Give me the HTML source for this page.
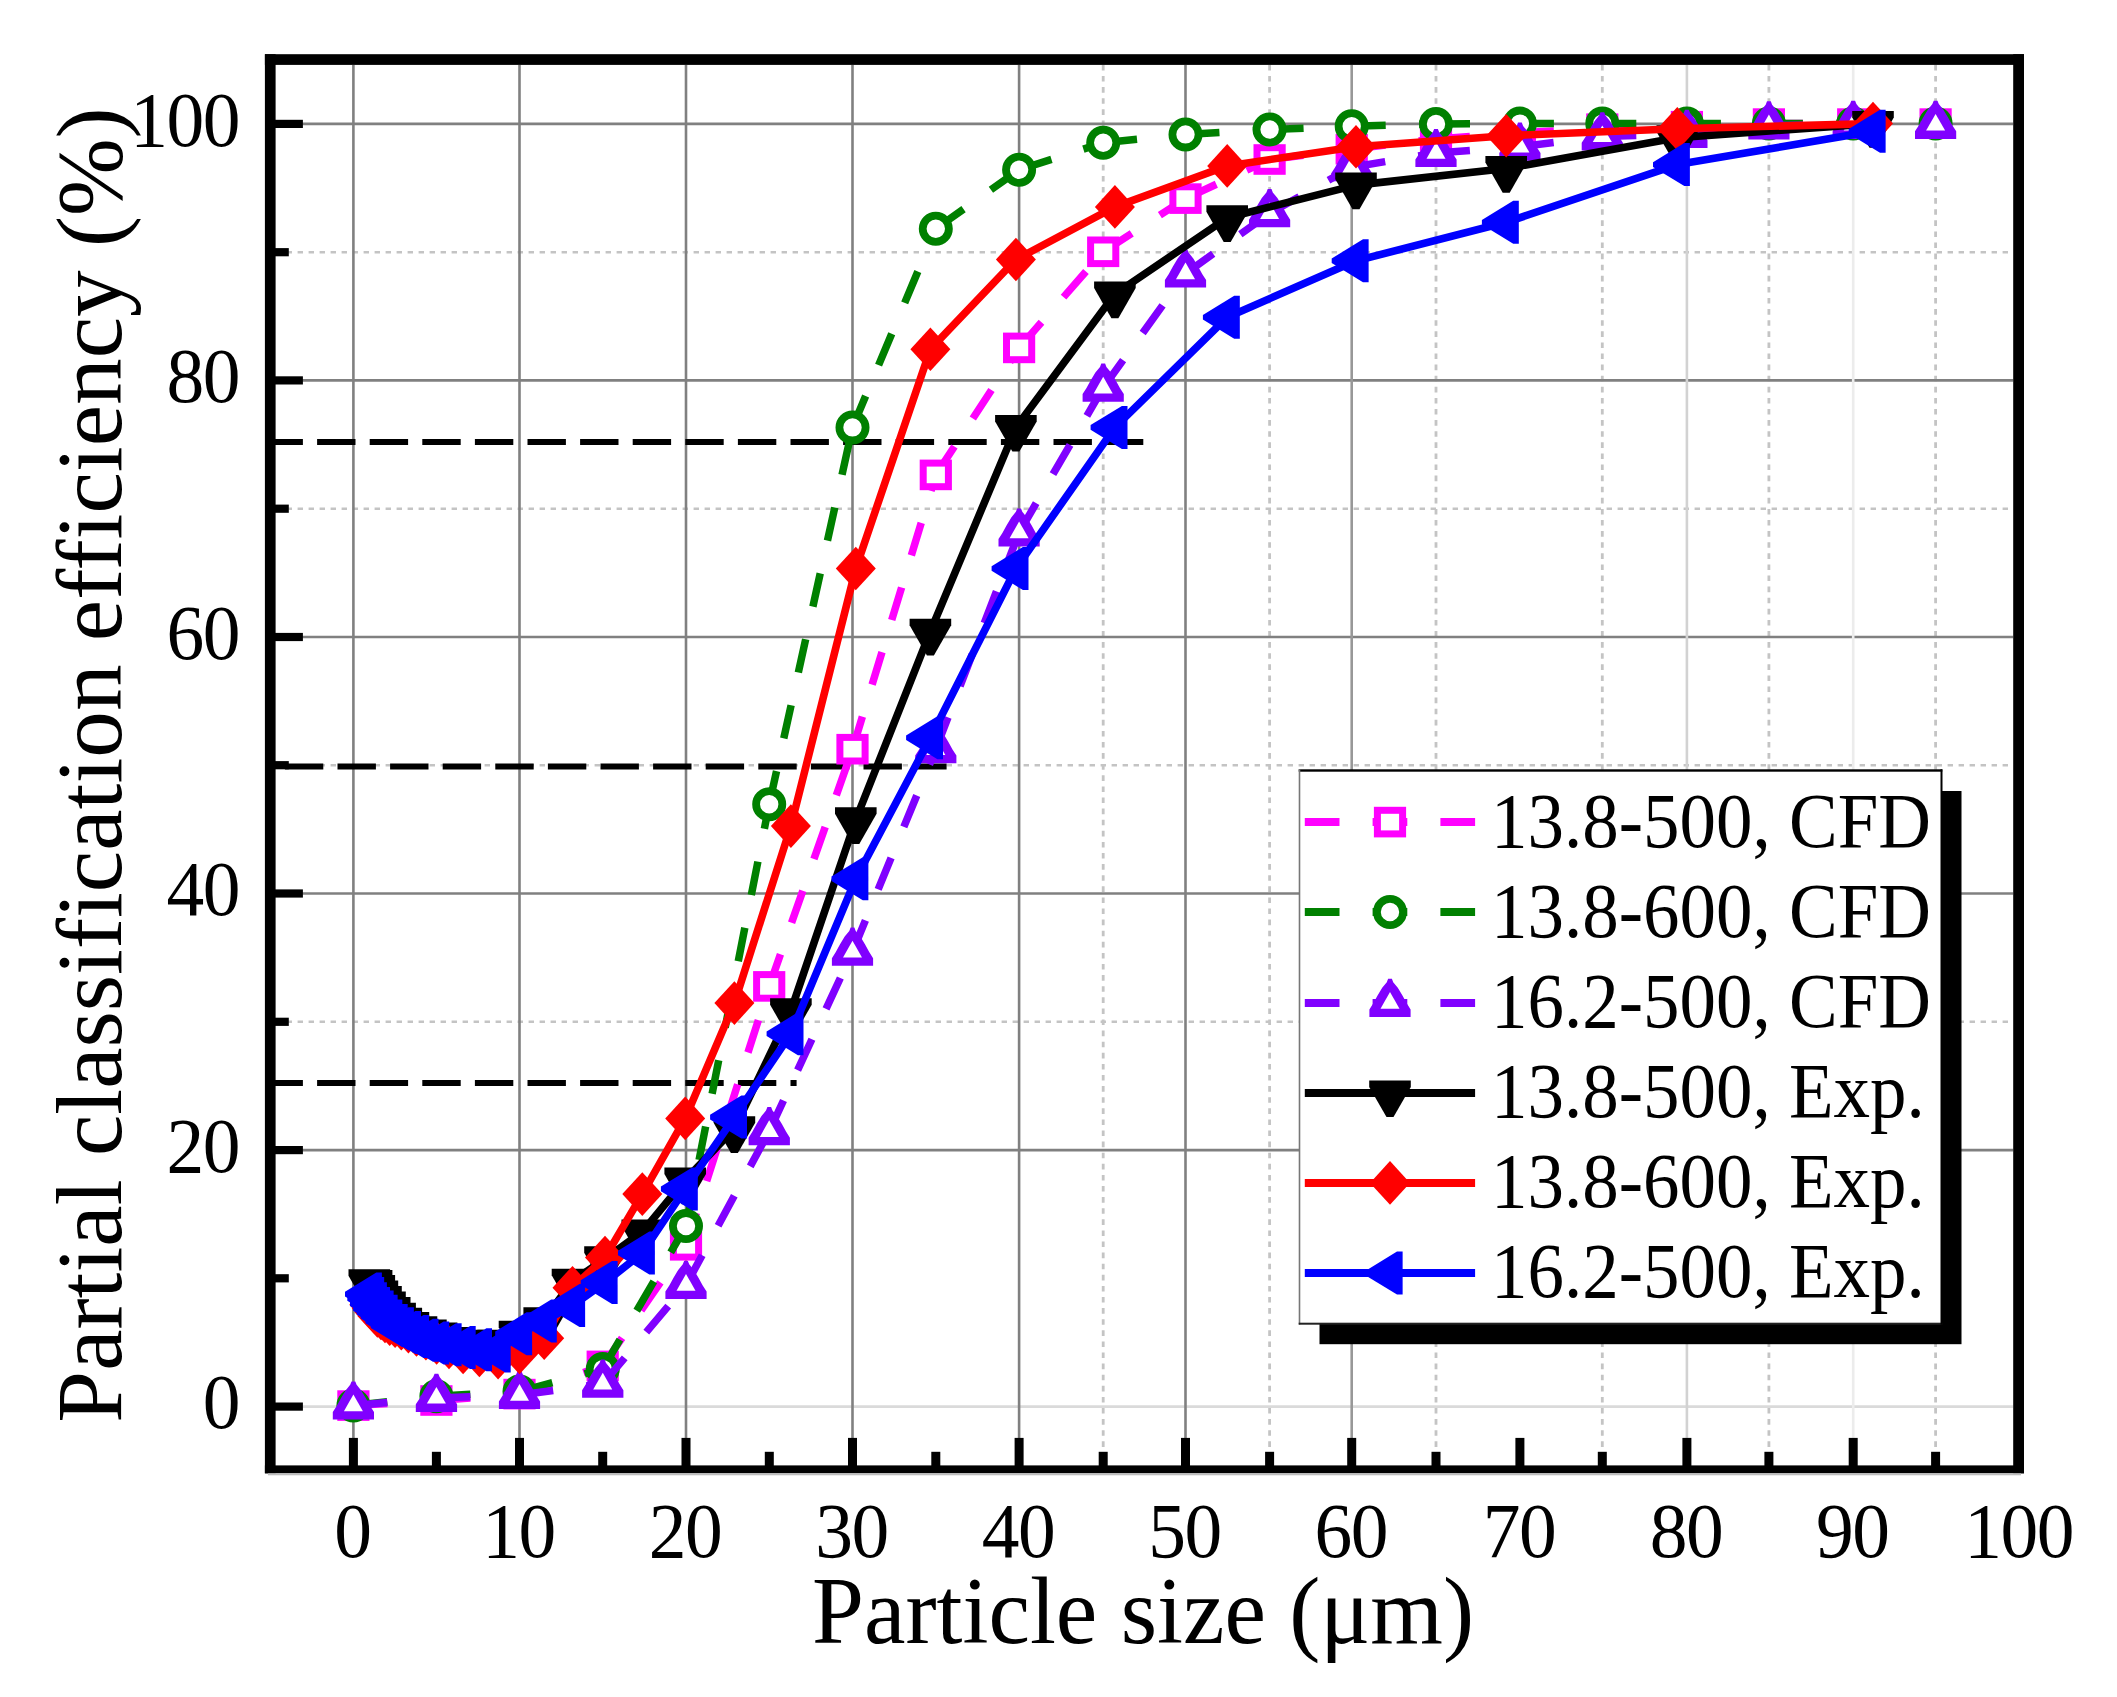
<!DOCTYPE html>
<html lang="en">
<head>
<meta charset="utf-8">
<title>Partial classification efficiency vs particle size</title>
<style>
html,body{margin:0;padding:0;background:#fff;}
body{width:2117px;height:1697px;overflow:hidden;font-family:"Liberation Serif","Times New Roman",serif;}
svg{display:block;}
</style>
</head>
<body>
<svg width="2117" height="1697" viewBox="0 0 2117 1697">
<rect x="0" y="0" width="2117" height="1697" fill="#fff"/>
<g id="grid" fill="none">
<line x1="275.6" x2="2013.2" y1="1021.8" y2="1021.8" stroke="#c4c4c4" stroke-width="2.6" stroke-dasharray="5.4 5.6"/>
<line x1="275.6" x2="2013.2" y1="765.2" y2="765.2" stroke="#c4c4c4" stroke-width="2.6" stroke-dasharray="5.4 5.6"/>
<line x1="275.6" x2="2013.2" y1="508.7" y2="508.7" stroke="#c4c4c4" stroke-width="2.6" stroke-dasharray="5.4 5.6"/>
<line x1="275.6" x2="2013.2" y1="252.2" y2="252.2" stroke="#c4c4c4" stroke-width="2.6" stroke-dasharray="5.4 5.6"/>
<line y1="64.9" y2="1465.4" x1="1103.2" x2="1103.2" stroke="#c4c4c4" stroke-width="2.8" stroke-dasharray="5.6 5.5"/>
<line y1="64.9" y2="1465.4" x1="1269.6" x2="1269.6" stroke="#c4c4c4" stroke-width="2.8" stroke-dasharray="5.6 5.5"/>
<line y1="64.9" y2="1465.4" x1="1436.0" x2="1436.0" stroke="#c4c4c4" stroke-width="2.8" stroke-dasharray="5.6 5.5"/>
<line y1="64.9" y2="1465.4" x1="1602.3" x2="1602.3" stroke="#c4c4c4" stroke-width="2.8" stroke-dasharray="5.6 5.5"/>
<line y1="64.9" y2="1465.4" x1="1768.9" x2="1768.9" stroke="#c4c4c4" stroke-width="2.8" stroke-dasharray="5.6 5.5"/>
<line y1="64.9" y2="1465.4" x1="1935.6" x2="1935.6" stroke="#c4c4c4" stroke-width="2.8" stroke-dasharray="5.6 5.5"/>
<line x1="275.6" x2="2013.2" y1="1406.6" y2="1406.6" stroke="#dadada" stroke-width="2.6"/>
<line x1="275.6" x2="2013.2" y1="1150.1" y2="1150.1" stroke="#808080" stroke-width="2.6"/>
<line x1="275.6" x2="2013.2" y1="893.5" y2="893.5" stroke="#808080" stroke-width="2.6"/>
<line x1="275.6" x2="2013.2" y1="637.0" y2="637.0" stroke="#808080" stroke-width="2.6"/>
<line x1="275.6" x2="2013.2" y1="380.4" y2="380.4" stroke="#808080" stroke-width="2.6"/>
<line x1="275.6" x2="2013.2" y1="123.9" y2="123.9" stroke="#808080" stroke-width="2.6"/>
<line y1="64.9" y2="1465.4" x1="353.4" x2="353.4" stroke="#808080" stroke-width="2.6"/>
<line y1="64.9" y2="1465.4" x1="519.5" x2="519.5" stroke="#808080" stroke-width="2.6"/>
<line y1="64.9" y2="1465.4" x1="686.0" x2="686.0" stroke="#808080" stroke-width="2.6"/>
<line y1="64.9" y2="1465.4" x1="852.5" x2="852.5" stroke="#808080" stroke-width="2.6"/>
<line y1="64.9" y2="1465.4" x1="1019.1" x2="1019.1" stroke="#808080" stroke-width="2.6"/>
<line y1="64.9" y2="1465.4" x1="1185.5" x2="1185.5" stroke="#808080" stroke-width="2.6"/>
<line y1="64.9" y2="1465.4" x1="1351.7" x2="1351.7" stroke="#989898" stroke-width="2.6"/>
<line y1="64.9" y2="1465.4" x1="1686.9" x2="1686.9" stroke="#d2d2d2" stroke-width="2.6"/>
<line y1="64.9" y2="1465.4" x1="1853.2" x2="1853.2" stroke="#ececec" stroke-width="2.6"/>
</g>
<g id="ref" stroke="#000" stroke-width="6" fill="none" stroke-dasharray="38.4 14.2">
<line x1="266.0" x2="1143.3" y1="441.9" y2="441.9" stroke-dashoffset="1.5"/>
<line x1="266.0" x2="946.6" y1="766.5" y2="766.5" stroke-dashoffset="33.7"/>
<line x1="266.0" x2="796.6" y1="1083.1" y2="1083.1" stroke-dashoffset="1.5"/>
</g>
<g id="s_mag">
<g stroke="#ff00ff" stroke-width="7.5" stroke-dasharray="34 33.5" fill="none">
<line x1="353.4" y1="1405.6" x2="436.4" y2="1400.5"/>
<line x1="436.4" y1="1400.5" x2="519.5" y2="1394.1"/>
<line x1="519.5" y1="1394.1" x2="602.8" y2="1365.9"/>
<line x1="602.8" y1="1365.9" x2="686.0" y2="1245.3"/>
<line x1="686.0" y1="1245.3" x2="769.2" y2="986.4"/>
<line x1="769.2" y1="986.4" x2="852.5" y2="749.2"/>
<line x1="852.5" y1="749.2" x2="935.8" y2="474.9"/>
<line x1="935.8" y1="474.9" x2="1019.1" y2="347.9"/>
<line x1="1019.1" y1="347.9" x2="1103.2" y2="251.8"/>
<line x1="1103.2" y1="251.8" x2="1185.5" y2="198.6"/>
<line x1="1185.5" y1="198.6" x2="1269.6" y2="159.5"/>
<line x1="1269.6" y1="159.5" x2="1351.7" y2="149.2"/>
<line x1="1351.7" y1="149.2" x2="1436.0" y2="139.0"/>
<line x1="1436.0" y1="139.0" x2="1519.9" y2="132.6"/>
<line x1="1519.9" y1="132.6" x2="1602.3" y2="128.7"/>
<line x1="1602.3" y1="128.7" x2="1686.9" y2="126.2"/>
<line x1="1686.9" y1="126.2" x2="1768.9" y2="123.6"/>
<line x1="1768.9" y1="123.6" x2="1853.2" y2="123.6"/>
<line x1="1853.2" y1="123.6" x2="1935.6" y2="123.6"/>
</g>
<rect x="340.8" y="1393.8" width="25.2" height="23.6" fill="#fff" stroke="#ff00ff" stroke-width="7"/>
<rect x="423.8" y="1388.7" width="25.2" height="23.6" fill="#fff" stroke="#ff00ff" stroke-width="7"/>
<rect x="506.9" y="1382.3" width="25.2" height="23.6" fill="#fff" stroke="#ff00ff" stroke-width="7"/>
<rect x="590.1" y="1354.1" width="25.2" height="23.6" fill="#fff" stroke="#ff00ff" stroke-width="7"/>
<rect x="673.4" y="1233.5" width="25.2" height="23.6" fill="#fff" stroke="#ff00ff" stroke-width="7"/>
<rect x="756.6" y="974.6" width="25.2" height="23.6" fill="#fff" stroke="#ff00ff" stroke-width="7"/>
<rect x="839.9" y="737.4" width="25.2" height="23.6" fill="#fff" stroke="#ff00ff" stroke-width="7"/>
<rect x="923.2" y="463.1" width="25.2" height="23.6" fill="#fff" stroke="#ff00ff" stroke-width="7"/>
<rect x="1006.5" y="336.1" width="25.2" height="23.6" fill="#fff" stroke="#ff00ff" stroke-width="7"/>
<rect x="1090.6" y="240.0" width="25.2" height="23.6" fill="#fff" stroke="#ff00ff" stroke-width="7"/>
<rect x="1172.9" y="186.8" width="25.2" height="23.6" fill="#fff" stroke="#ff00ff" stroke-width="7"/>
<rect x="1257.0" y="147.7" width="25.2" height="23.6" fill="#fff" stroke="#ff00ff" stroke-width="7"/>
<rect x="1339.1" y="137.4" width="25.2" height="23.6" fill="#fff" stroke="#ff00ff" stroke-width="7"/>
<rect x="1423.4" y="127.2" width="25.2" height="23.6" fill="#fff" stroke="#ff00ff" stroke-width="7"/>
<rect x="1507.3" y="120.8" width="25.2" height="23.6" fill="#fff" stroke="#ff00ff" stroke-width="7"/>
<rect x="1589.7" y="116.9" width="25.2" height="23.6" fill="#fff" stroke="#ff00ff" stroke-width="7"/>
<rect x="1674.3" y="114.4" width="25.2" height="23.6" fill="#fff" stroke="#ff00ff" stroke-width="7"/>
<rect x="1756.3" y="111.8" width="25.2" height="23.6" fill="#fff" stroke="#ff00ff" stroke-width="7"/>
<rect x="1840.6" y="111.8" width="25.2" height="23.6" fill="#fff" stroke="#ff00ff" stroke-width="7"/>
<rect x="1923.0" y="111.8" width="25.2" height="23.6" fill="#fff" stroke="#ff00ff" stroke-width="7"/>
</g>
<g id="s_grn">
<g stroke="#008000" stroke-width="7.5" stroke-dasharray="34 33.5" fill="none">
<line x1="353.4" y1="1405.6" x2="436.4" y2="1396.2"/>
<line x1="436.4" y1="1396.2" x2="519.5" y2="1391.5"/>
<line x1="519.5" y1="1391.5" x2="602.8" y2="1369.1"/>
<line x1="602.8" y1="1369.1" x2="686.0" y2="1226.1"/>
<line x1="686.0" y1="1226.1" x2="769.2" y2="804.3"/>
<line x1="769.2" y1="804.3" x2="852.5" y2="427.4"/>
<line x1="852.5" y1="427.4" x2="935.8" y2="228.7"/>
<line x1="935.8" y1="228.7" x2="1019.1" y2="169.8"/>
<line x1="1019.1" y1="169.8" x2="1103.2" y2="142.8"/>
<line x1="1103.2" y1="142.8" x2="1185.5" y2="134.4"/>
<line x1="1185.5" y1="134.4" x2="1269.6" y2="129.5"/>
<line x1="1269.6" y1="129.5" x2="1351.7" y2="126.2"/>
<line x1="1351.7" y1="126.2" x2="1436.0" y2="123.9"/>
<line x1="1436.0" y1="123.9" x2="1519.9" y2="123.6"/>
<line x1="1519.9" y1="123.6" x2="1602.3" y2="123.6"/>
<line x1="1602.3" y1="123.6" x2="1686.9" y2="123.6"/>
<line x1="1686.9" y1="123.6" x2="1768.9" y2="123.6"/>
<line x1="1768.9" y1="123.6" x2="1853.2" y2="123.6"/>
<line x1="1853.2" y1="123.6" x2="1935.6" y2="123.6"/>
</g>
<circle cx="353.4" cy="1405.6" r="13.1" fill="#fff" stroke="#008000" stroke-width="7.8"/>
<circle cx="436.4" cy="1396.2" r="13.1" fill="#fff" stroke="#008000" stroke-width="7.8"/>
<circle cx="519.5" cy="1391.5" r="13.1" fill="#fff" stroke="#008000" stroke-width="7.8"/>
<circle cx="602.8" cy="1369.1" r="13.1" fill="#fff" stroke="#008000" stroke-width="7.8"/>
<circle cx="686.0" cy="1226.1" r="13.1" fill="#fff" stroke="#008000" stroke-width="7.8"/>
<circle cx="769.2" cy="804.3" r="13.1" fill="#fff" stroke="#008000" stroke-width="7.8"/>
<circle cx="852.5" cy="427.4" r="13.1" fill="#fff" stroke="#008000" stroke-width="7.8"/>
<circle cx="935.8" cy="228.7" r="13.1" fill="#fff" stroke="#008000" stroke-width="7.8"/>
<circle cx="1019.1" cy="169.8" r="13.1" fill="#fff" stroke="#008000" stroke-width="7.8"/>
<circle cx="1103.2" cy="142.8" r="13.1" fill="#fff" stroke="#008000" stroke-width="7.8"/>
<circle cx="1185.5" cy="134.4" r="13.1" fill="#fff" stroke="#008000" stroke-width="7.8"/>
<circle cx="1269.6" cy="129.5" r="13.1" fill="#fff" stroke="#008000" stroke-width="7.8"/>
<circle cx="1351.7" cy="126.2" r="13.1" fill="#fff" stroke="#008000" stroke-width="7.8"/>
<circle cx="1436.0" cy="123.9" r="13.1" fill="#fff" stroke="#008000" stroke-width="7.8"/>
<circle cx="1519.9" cy="123.6" r="13.1" fill="#fff" stroke="#008000" stroke-width="7.8"/>
<circle cx="1602.3" cy="123.6" r="13.1" fill="#fff" stroke="#008000" stroke-width="7.8"/>
<circle cx="1686.9" cy="123.6" r="13.1" fill="#fff" stroke="#008000" stroke-width="7.8"/>
<circle cx="1768.9" cy="123.6" r="13.1" fill="#fff" stroke="#008000" stroke-width="7.8"/>
<circle cx="1853.2" cy="123.6" r="13.1" fill="#fff" stroke="#008000" stroke-width="7.8"/>
<circle cx="1935.6" cy="123.6" r="13.1" fill="#fff" stroke="#008000" stroke-width="7.8"/>
</g>
<g id="s_pur">
<g stroke="#8000ff" stroke-width="7.5" stroke-dasharray="34 33.5" fill="none">
<line x1="353.4" y1="1405.6" x2="436.4" y2="1397.9"/>
<line x1="436.4" y1="1397.9" x2="519.5" y2="1395.0"/>
<line x1="519.5" y1="1395.0" x2="602.8" y2="1383.8"/>
<line x1="602.8" y1="1383.8" x2="686.0" y2="1285.1"/>
<line x1="686.0" y1="1285.1" x2="769.2" y2="1131.3"/>
<line x1="769.2" y1="1131.3" x2="852.5" y2="951.8"/>
<line x1="852.5" y1="951.8" x2="935.8" y2="749.2"/>
<line x1="935.8" y1="749.2" x2="1019.1" y2="532.6"/>
<line x1="1019.1" y1="532.6" x2="1103.2" y2="387.7"/>
<line x1="1103.2" y1="387.7" x2="1185.5" y2="273.6"/>
<line x1="1185.5" y1="273.6" x2="1269.6" y2="213.3"/>
<line x1="1269.6" y1="213.3" x2="1351.7" y2="167.2"/>
<line x1="1351.7" y1="167.2" x2="1436.0" y2="153.1"/>
<line x1="1436.0" y1="153.1" x2="1519.9" y2="146.7"/>
<line x1="1519.9" y1="146.7" x2="1602.3" y2="136.4"/>
<line x1="1602.3" y1="136.4" x2="1686.9" y2="133.9"/>
<line x1="1686.9" y1="133.9" x2="1768.9" y2="125.5"/>
<line x1="1768.9" y1="125.5" x2="1853.2" y2="124.9"/>
<line x1="1853.2" y1="124.9" x2="1935.6" y2="124.9"/>
</g>
<polygon points="355.3,1381.4 356.6,1384.8 361.2,1390.4 366.0,1398.4 370.1,1405.9 374.0,1412.0 374.0,1419.6 332.8,1419.6 332.8,1412.0 336.7,1405.9 340.8,1398.4 345.6,1390.4 350.2,1384.8 351.5,1381.4" fill="#8000ff"/><polygon points="353.4,1394.6 362.9,1411.3 343.9,1411.3" fill="#fff"/>
<polygon points="438.3,1373.7 439.6,1377.1 444.2,1382.7 449.1,1390.7 453.1,1398.2 457.1,1404.3 457.1,1411.9 415.8,1411.9 415.8,1404.3 419.8,1398.2 423.8,1390.7 428.6,1382.7 433.2,1377.1 434.6,1373.7" fill="#8000ff"/><polygon points="436.4,1386.9 445.9,1403.6 426.9,1403.6" fill="#fff"/>
<polygon points="521.4,1370.8 522.7,1374.2 527.3,1379.8 532.1,1387.8 536.2,1395.3 540.1,1401.4 540.1,1409.0 498.9,1409.0 498.9,1401.4 502.8,1395.3 506.9,1387.8 511.7,1379.8 516.3,1374.2 517.6,1370.8" fill="#8000ff"/><polygon points="519.5,1384.0 529.0,1400.7 510.0,1400.7" fill="#fff"/>
<polygon points="604.6,1359.6 606.0,1363.0 610.5,1368.6 615.4,1376.6 619.5,1384.1 623.4,1390.2 623.4,1397.8 582.1,1397.8 582.1,1390.2 586.0,1384.1 590.1,1376.6 595.0,1368.6 599.5,1363.0 600.9,1359.6" fill="#8000ff"/><polygon points="602.8,1372.8 612.2,1389.5 593.2,1389.5" fill="#fff"/>
<polygon points="687.9,1260.9 689.2,1264.3 693.8,1269.9 698.6,1277.9 702.7,1285.4 706.6,1291.5 706.6,1299.1 665.4,1299.1 665.4,1291.5 669.3,1285.4 673.4,1277.9 678.2,1269.9 682.8,1264.3 684.1,1260.9" fill="#8000ff"/><polygon points="686.0,1274.1 695.5,1290.8 676.5,1290.8" fill="#fff"/>
<polygon points="771.1,1107.1 772.5,1110.5 777.0,1116.1 781.9,1124.1 786.0,1131.6 789.9,1137.7 789.9,1145.3 748.6,1145.3 748.6,1137.7 752.5,1131.6 756.6,1124.1 761.5,1116.1 766.0,1110.5 767.4,1107.1" fill="#8000ff"/><polygon points="769.2,1120.3 778.8,1137.0 759.8,1137.0" fill="#fff"/>
<polygon points="854.4,927.6 855.7,931.0 860.3,936.6 865.1,944.6 869.2,952.1 873.1,958.2 873.1,965.8 831.9,965.8 831.9,958.2 835.8,952.1 839.9,944.6 844.7,936.6 849.3,931.0 850.6,927.6" fill="#8000ff"/><polygon points="852.5,940.8 862.0,957.5 843.0,957.5" fill="#fff"/>
<polygon points="937.7,725.0 939.0,728.4 943.6,734.0 948.4,742.0 952.5,749.5 956.4,755.6 956.4,763.2 915.2,763.2 915.2,755.6 919.1,749.5 923.2,742.0 928.0,734.0 932.6,728.4 933.9,725.0" fill="#8000ff"/><polygon points="935.8,738.2 945.3,754.9 926.3,754.9" fill="#fff"/>
<polygon points="1021.0,508.4 1022.3,511.8 1026.9,517.4 1031.7,525.4 1035.8,532.9 1039.7,539.0 1039.7,546.6 998.5,546.6 998.5,539.0 1002.4,532.9 1006.5,525.4 1011.3,517.4 1015.9,511.8 1017.2,508.4" fill="#8000ff"/><polygon points="1019.1,521.6 1028.6,538.3 1009.6,538.3" fill="#fff"/>
<polygon points="1105.1,363.5 1106.4,366.9 1111.0,372.5 1115.8,380.5 1119.9,388.0 1123.8,394.1 1123.8,401.7 1082.6,401.7 1082.6,394.1 1086.5,388.0 1090.6,380.5 1095.4,372.5 1100.0,366.9 1101.3,363.5" fill="#8000ff"/><polygon points="1103.2,376.7 1112.7,393.4 1093.7,393.4" fill="#fff"/>
<polygon points="1187.4,249.4 1188.7,252.8 1193.3,258.4 1198.1,266.4 1202.2,273.9 1206.1,280.0 1206.1,287.6 1164.9,287.6 1164.9,280.0 1168.8,273.9 1172.9,266.4 1177.7,258.4 1182.3,252.8 1183.6,249.4" fill="#8000ff"/><polygon points="1185.5,262.6 1195.0,279.3 1176.0,279.3" fill="#fff"/>
<polygon points="1271.5,189.1 1272.8,192.5 1277.4,198.1 1282.2,206.1 1286.3,213.6 1290.2,219.7 1290.2,227.3 1249.0,227.3 1249.0,219.7 1252.9,213.6 1257.0,206.1 1261.8,198.1 1266.4,192.5 1267.7,189.1" fill="#8000ff"/><polygon points="1269.6,202.3 1279.1,219.0 1260.1,219.0" fill="#fff"/>
<polygon points="1353.6,143.0 1354.9,146.4 1359.5,152.0 1364.3,160.0 1368.4,167.5 1372.3,173.6 1372.3,181.2 1331.1,181.2 1331.1,173.6 1335.0,167.5 1339.1,160.0 1343.9,152.0 1348.5,146.4 1349.8,143.0" fill="#8000ff"/><polygon points="1351.7,156.2 1361.2,172.9 1342.2,172.9" fill="#fff"/>
<polygon points="1437.9,128.9 1439.2,132.3 1443.8,137.9 1448.6,145.9 1452.7,153.4 1456.6,159.5 1456.6,167.1 1415.4,167.1 1415.4,159.5 1419.3,153.4 1423.4,145.9 1428.2,137.9 1432.8,132.3 1434.1,128.9" fill="#8000ff"/><polygon points="1436.0,142.1 1445.5,158.8 1426.5,158.8" fill="#fff"/>
<polygon points="1521.8,122.5 1523.1,125.9 1527.7,131.5 1532.5,139.5 1536.6,147.0 1540.5,153.1 1540.5,160.7 1499.3,160.7 1499.3,153.1 1503.2,147.0 1507.3,139.5 1512.1,131.5 1516.7,125.9 1518.0,122.5" fill="#8000ff"/><polygon points="1519.9,135.7 1529.4,152.4 1510.4,152.4" fill="#fff"/>
<polygon points="1604.2,112.2 1605.5,115.6 1610.1,121.2 1614.9,129.2 1619.0,136.7 1622.9,142.8 1622.9,150.4 1581.7,150.4 1581.7,142.8 1585.6,136.7 1589.7,129.2 1594.5,121.2 1599.1,115.6 1600.4,112.2" fill="#8000ff"/><polygon points="1602.3,125.4 1611.8,142.1 1592.8,142.1" fill="#fff"/>
<polygon points="1688.8,109.7 1690.1,113.1 1694.7,118.7 1699.5,126.7 1703.6,134.2 1707.5,140.3 1707.5,147.9 1666.3,147.9 1666.3,140.3 1670.2,134.2 1674.3,126.7 1679.1,118.7 1683.7,113.1 1685.0,109.7" fill="#8000ff"/><polygon points="1686.9,122.9 1696.4,139.6 1677.4,139.6" fill="#fff"/>
<polygon points="1770.8,101.3 1772.1,104.7 1776.7,110.3 1781.5,118.3 1785.6,125.8 1789.5,131.9 1789.5,139.5 1748.3,139.5 1748.3,131.9 1752.2,125.8 1756.3,118.3 1761.1,110.3 1765.7,104.7 1767.0,101.3" fill="#8000ff"/><polygon points="1768.9,114.5 1778.4,131.2 1759.4,131.2" fill="#fff"/>
<polygon points="1855.1,100.7 1856.4,104.1 1861.0,109.7 1865.8,117.7 1869.9,125.2 1873.8,131.3 1873.8,138.9 1832.6,138.9 1832.6,131.3 1836.5,125.2 1840.6,117.7 1845.4,109.7 1850.0,104.1 1851.3,100.7" fill="#8000ff"/><polygon points="1853.2,113.9 1862.7,130.6 1843.7,130.6" fill="#fff"/>
<polygon points="1937.5,100.7 1938.8,104.1 1943.4,109.7 1948.2,117.7 1952.3,125.2 1956.2,131.3 1956.2,138.9 1915.0,138.9 1915.0,131.3 1918.9,125.2 1923.0,117.7 1927.8,109.7 1932.4,104.1 1933.7,100.7" fill="#8000ff"/><polygon points="1935.6,113.9 1945.1,130.6 1926.1,130.6" fill="#fff"/>
</g>
<g id="s_blk">
<polyline points="369.3,1281.8 371.6,1282.5 374.3,1287.4 377.4,1293.1 381.0,1298.5 385.0,1304.0 389.7,1309.6 395.1,1315.2 401.3,1320.2 408.4,1324.6 416.5,1328.8 425.9,1332.0 436.6,1335.0 449.0,1339.5 463.1,1342.2 479.4,1343.4 498.1,1342.2 519.5,1333.2 544.2,1319.7 572.5,1281.2 605.0,1258.8 642.3,1231.9 685.2,1180.0 734.4,1128.7 790.9,1010.7 855.8,819.7 930.4,631.3 1015.9,427.4 1114.9,294.1 1227.2,217.8 1356.0,185.1 1506.2,168.5 1677.3,137.7 1873.0,123.6" fill="none" stroke="#000000" stroke-width="7.6" stroke-linejoin="round"/>
<polygon points="348.5,1269.3 390.1,1269.3 390.1,1275.8 372.8,1306.0 365.8,1306.0 348.5,1275.8" fill="#000000"/>
<polygon points="350.8,1270.0 392.4,1270.0 392.4,1276.5 375.1,1306.7 368.1,1306.7 350.8,1276.5" fill="#000000"/>
<polygon points="353.5,1274.9 395.1,1274.9 395.1,1281.4 377.8,1311.6 370.8,1311.6 353.5,1281.4" fill="#000000"/>
<polygon points="356.6,1280.6 398.2,1280.6 398.2,1287.1 380.9,1317.3 373.9,1317.3 356.6,1287.1" fill="#000000"/>
<polygon points="360.2,1286.0 401.8,1286.0 401.8,1292.5 384.5,1322.7 377.5,1322.7 360.2,1292.5" fill="#000000"/>
<polygon points="364.2,1291.5 405.8,1291.5 405.8,1298.0 388.5,1328.2 381.5,1328.2 364.2,1298.0" fill="#000000"/>
<polygon points="368.9,1297.1 410.5,1297.1 410.5,1303.6 393.2,1333.8 386.2,1333.8 368.9,1303.6" fill="#000000"/>
<polygon points="374.3,1302.7 415.9,1302.7 415.9,1309.2 398.6,1339.4 391.6,1339.4 374.3,1309.2" fill="#000000"/>
<polygon points="380.5,1307.7 422.1,1307.7 422.1,1314.2 404.8,1344.4 397.8,1344.4 380.5,1314.2" fill="#000000"/>
<polygon points="387.6,1312.1 429.2,1312.1 429.2,1318.6 411.9,1348.8 404.9,1348.8 387.6,1318.6" fill="#000000"/>
<polygon points="395.7,1316.3 437.3,1316.3 437.3,1322.8 420.0,1353.0 413.0,1353.0 395.7,1322.8" fill="#000000"/>
<polygon points="405.1,1319.5 446.7,1319.5 446.7,1326.0 429.4,1356.2 422.4,1356.2 405.1,1326.0" fill="#000000"/>
<polygon points="415.8,1322.5 457.4,1322.5 457.4,1329.0 440.1,1359.2 433.1,1359.2 415.8,1329.0" fill="#000000"/>
<polygon points="428.2,1327.0 469.8,1327.0 469.8,1333.5 452.5,1363.7 445.5,1363.7 428.2,1333.5" fill="#000000"/>
<polygon points="442.3,1329.7 483.9,1329.7 483.9,1336.2 466.6,1366.4 459.6,1366.4 442.3,1336.2" fill="#000000"/>
<polygon points="458.6,1330.9 500.2,1330.9 500.2,1337.4 482.9,1367.6 475.9,1367.6 458.6,1337.4" fill="#000000"/>
<polygon points="477.3,1329.7 518.9,1329.7 518.9,1336.2 501.6,1366.4 494.6,1366.4 477.3,1336.2" fill="#000000"/>
<polygon points="498.7,1320.7 540.3,1320.7 540.3,1327.2 523.0,1357.4 516.0,1357.4 498.7,1327.2" fill="#000000"/>
<polygon points="523.4,1307.2 565.0,1307.2 565.0,1313.7 547.7,1343.9 540.7,1343.9 523.4,1313.7" fill="#000000"/>
<polygon points="551.7,1268.7 593.3,1268.7 593.3,1275.2 576.0,1305.4 569.0,1305.4 551.7,1275.2" fill="#000000"/>
<polygon points="584.2,1246.3 625.8,1246.3 625.8,1252.8 608.5,1283.0 601.5,1283.0 584.2,1252.8" fill="#000000"/>
<polygon points="621.5,1219.4 663.1,1219.4 663.1,1225.9 645.8,1256.1 638.8,1256.1 621.5,1225.9" fill="#000000"/>
<polygon points="664.4,1167.5 706.0,1167.5 706.0,1174.0 688.7,1204.2 681.7,1204.2 664.4,1174.0" fill="#000000"/>
<polygon points="713.6,1116.2 755.2,1116.2 755.2,1122.7 737.9,1152.9 730.9,1152.9 713.6,1122.7" fill="#000000"/>
<polygon points="770.1,998.2 811.7,998.2 811.7,1004.7 794.4,1034.9 787.4,1034.9 770.1,1004.7" fill="#000000"/>
<polygon points="835.0,807.2 876.6,807.2 876.6,813.7 859.3,843.9 852.3,843.9 835.0,813.7" fill="#000000"/>
<polygon points="909.6,618.8 951.2,618.8 951.2,625.3 933.9,655.5 926.9,655.5 909.6,625.3" fill="#000000"/>
<polygon points="995.1,414.9 1036.7,414.9 1036.7,421.4 1019.4,451.6 1012.4,451.6 995.1,421.4" fill="#000000"/>
<polygon points="1094.1,281.6 1135.7,281.6 1135.7,288.1 1118.4,318.3 1111.4,318.3 1094.1,288.1" fill="#000000"/>
<polygon points="1206.4,205.3 1248.0,205.3 1248.0,211.8 1230.7,242.0 1223.7,242.0 1206.4,211.8" fill="#000000"/>
<polygon points="1335.2,172.6 1376.8,172.6 1376.8,179.1 1359.5,209.3 1352.5,209.3 1335.2,179.1" fill="#000000"/>
<polygon points="1485.4,156.0 1527.0,156.0 1527.0,162.5 1509.7,192.7 1502.7,192.7 1485.4,162.5" fill="#000000"/>
<polygon points="1656.5,125.2 1698.1,125.2 1698.1,131.7 1680.8,161.9 1673.8,161.9 1656.5,131.7" fill="#000000"/>
<polygon points="1852.2,111.1 1893.8,111.1 1893.8,117.6 1876.5,147.8 1869.5,147.8 1852.2,117.6" fill="#000000"/>
</g>
<g id="s_red">
<polyline points="369.3,1304.8 371.6,1308.1 374.3,1311.9 377.4,1316.0 381.0,1318.5 385.0,1321.4 389.7,1324.3 395.1,1326.3 401.3,1328.7 408.4,1331.6 416.5,1334.9 425.9,1338.8 436.6,1343.0 449.0,1347.4 463.1,1352.4 479.4,1355.5 498.1,1357.6 519.5,1352.4 544.2,1338.3 572.5,1287.7 605.0,1257.5 642.3,1194.1 685.2,1118.4 734.4,1003.1 790.9,826.1 855.8,568.5 930.4,349.2 1015.9,259.5 1114.9,206.9 1227.2,165.9 1356.0,146.7 1506.2,135.7 1677.3,128.7 1873.0,123.6" fill="none" stroke="#ff0000" stroke-width="7.6" stroke-linejoin="round"/>
<polygon points="349.3,1304.8 369.3,1283.0 389.3,1304.8 369.3,1326.6" fill="#ff0000"/>
<polygon points="351.6,1308.1 371.6,1286.3 391.6,1308.1 371.6,1329.9" fill="#ff0000"/>
<polygon points="354.3,1311.9 374.3,1290.1 394.3,1311.9 374.3,1333.7" fill="#ff0000"/>
<polygon points="357.4,1316.0 377.4,1294.2 397.4,1316.0 377.4,1337.8" fill="#ff0000"/>
<polygon points="361.0,1318.5 381.0,1296.7 401.0,1318.5 381.0,1340.3" fill="#ff0000"/>
<polygon points="365.0,1321.4 385.0,1299.6 405.0,1321.4 385.0,1343.2" fill="#ff0000"/>
<polygon points="369.7,1324.3 389.7,1302.5 409.7,1324.3 389.7,1346.1" fill="#ff0000"/>
<polygon points="375.1,1326.3 395.1,1304.5 415.1,1326.3 395.1,1348.1" fill="#ff0000"/>
<polygon points="381.3,1328.7 401.3,1306.9 421.3,1328.7 401.3,1350.5" fill="#ff0000"/>
<polygon points="388.4,1331.6 408.4,1309.8 428.4,1331.6 408.4,1353.4" fill="#ff0000"/>
<polygon points="396.5,1334.9 416.5,1313.1 436.5,1334.9 416.5,1356.7" fill="#ff0000"/>
<polygon points="405.9,1338.8 425.9,1317.0 445.9,1338.8 425.9,1360.6" fill="#ff0000"/>
<polygon points="416.6,1343.0 436.6,1321.2 456.6,1343.0 436.6,1364.8" fill="#ff0000"/>
<polygon points="429.0,1347.4 449.0,1325.6 469.0,1347.4 449.0,1369.2" fill="#ff0000"/>
<polygon points="443.1,1352.4 463.1,1330.6 483.1,1352.4 463.1,1374.2" fill="#ff0000"/>
<polygon points="459.4,1355.5 479.4,1333.7 499.4,1355.5 479.4,1377.3" fill="#ff0000"/>
<polygon points="478.1,1357.6 498.1,1335.8 518.1,1357.6 498.1,1379.4" fill="#ff0000"/>
<polygon points="499.5,1352.4 519.5,1330.6 539.5,1352.4 519.5,1374.2" fill="#ff0000"/>
<polygon points="524.2,1338.3 544.2,1316.5 564.2,1338.3 544.2,1360.1" fill="#ff0000"/>
<polygon points="552.5,1287.7 572.5,1265.9 592.5,1287.7 572.5,1309.5" fill="#ff0000"/>
<polygon points="585.0,1257.5 605.0,1235.7 625.0,1257.5 605.0,1279.3" fill="#ff0000"/>
<polygon points="622.3,1194.1 642.3,1172.3 662.3,1194.1 642.3,1215.9" fill="#ff0000"/>
<polygon points="665.2,1118.4 685.2,1096.6 705.2,1118.4 685.2,1140.2" fill="#ff0000"/>
<polygon points="714.4,1003.1 734.4,981.3 754.4,1003.1 734.4,1024.9" fill="#ff0000"/>
<polygon points="770.9,826.1 790.9,804.3 810.9,826.1 790.9,847.9" fill="#ff0000"/>
<polygon points="835.8,568.5 855.8,546.7 875.8,568.5 855.8,590.3" fill="#ff0000"/>
<polygon points="910.4,349.2 930.4,327.4 950.4,349.2 930.4,371.0" fill="#ff0000"/>
<polygon points="995.9,259.5 1015.9,237.7 1035.9,259.5 1015.9,281.3" fill="#ff0000"/>
<polygon points="1094.9,206.9 1114.9,185.1 1134.9,206.9 1114.9,228.7" fill="#ff0000"/>
<polygon points="1207.2,165.9 1227.2,144.1 1247.2,165.9 1227.2,187.7" fill="#ff0000"/>
<polygon points="1336.0,146.7 1356.0,124.9 1376.0,146.7 1356.0,168.5" fill="#ff0000"/>
<polygon points="1486.2,135.7 1506.2,113.9 1526.2,135.7 1506.2,157.5" fill="#ff0000"/>
<polygon points="1657.3,128.7 1677.3,106.9 1697.3,128.7 1677.3,150.5" fill="#ff0000"/>
<polygon points="1853.0,123.6 1873.0,101.8 1893.0,123.6 1873.0,145.4" fill="#ff0000"/>
</g>
<g id="s_blu">
<polyline points="369.3,1294.1 371.6,1298.5 374.3,1303.7 377.4,1308.4 381.0,1312.1 385.0,1316.3 389.7,1321.0 395.1,1325.6 401.3,1328.8 408.4,1332.4 416.5,1336.5 425.9,1340.2 436.6,1343.0 449.0,1344.8 463.1,1347.5 479.4,1349.8 498.1,1351.0 519.5,1333.8 544.2,1321.0 572.5,1305.6 605.0,1282.5 642.3,1253.0 685.2,1188.9 734.4,1117.1 790.9,1033.8 855.8,878.7 930.4,737.7 1015.9,568.5 1114.9,427.4 1227.2,317.2 1356.0,260.8 1506.2,222.3 1677.3,164.6 1873.0,131.3" fill="none" stroke="#0000ff" stroke-width="7.6" stroke-linejoin="round"/>
<polygon points="345.0,1291.8 376.3,1272.6 381.9,1272.6 381.9,1315.6 376.3,1315.6 345.0,1296.4" fill="#0000ff"/>
<polygon points="347.3,1296.2 378.6,1277.0 384.2,1277.0 384.2,1320.0 378.6,1320.0 347.3,1300.8" fill="#0000ff"/>
<polygon points="350.0,1301.4 381.3,1282.2 386.9,1282.2 386.9,1325.2 381.3,1325.2 350.0,1306.0" fill="#0000ff"/>
<polygon points="353.1,1306.1 384.4,1286.9 390.0,1286.9 390.0,1329.9 384.4,1329.9 353.1,1310.7" fill="#0000ff"/>
<polygon points="356.7,1309.8 388.0,1290.6 393.6,1290.6 393.6,1333.6 388.0,1333.6 356.7,1314.4" fill="#0000ff"/>
<polygon points="360.7,1314.0 392.0,1294.8 397.6,1294.8 397.6,1337.8 392.0,1337.8 360.7,1318.6" fill="#0000ff"/>
<polygon points="365.4,1318.7 396.7,1299.5 402.3,1299.5 402.3,1342.5 396.7,1342.5 365.4,1323.3" fill="#0000ff"/>
<polygon points="370.8,1323.3 402.1,1304.1 407.7,1304.1 407.7,1347.1 402.1,1347.1 370.8,1327.9" fill="#0000ff"/>
<polygon points="377.0,1326.5 408.3,1307.3 413.9,1307.3 413.9,1350.3 408.3,1350.3 377.0,1331.1" fill="#0000ff"/>
<polygon points="384.1,1330.1 415.4,1310.9 421.0,1310.9 421.0,1353.9 415.4,1353.9 384.1,1334.7" fill="#0000ff"/>
<polygon points="392.2,1334.2 423.5,1315.0 429.1,1315.0 429.1,1358.0 423.5,1358.0 392.2,1338.8" fill="#0000ff"/>
<polygon points="401.6,1337.9 432.9,1318.7 438.5,1318.7 438.5,1361.7 432.9,1361.7 401.6,1342.5" fill="#0000ff"/>
<polygon points="412.3,1340.7 443.6,1321.5 449.2,1321.5 449.2,1364.5 443.6,1364.5 412.3,1345.3" fill="#0000ff"/>
<polygon points="424.7,1342.5 456.0,1323.3 461.6,1323.3 461.6,1366.3 456.0,1366.3 424.7,1347.1" fill="#0000ff"/>
<polygon points="438.8,1345.2 470.1,1326.0 475.7,1326.0 475.7,1369.0 470.1,1369.0 438.8,1349.8" fill="#0000ff"/>
<polygon points="455.1,1347.5 486.4,1328.3 492.0,1328.3 492.0,1371.3 486.4,1371.3 455.1,1352.1" fill="#0000ff"/>
<polygon points="473.8,1348.7 505.1,1329.5 510.7,1329.5 510.7,1372.5 505.1,1372.5 473.8,1353.3" fill="#0000ff"/>
<polygon points="495.2,1331.5 526.5,1312.3 532.1,1312.3 532.1,1355.3 526.5,1355.3 495.2,1336.1" fill="#0000ff"/>
<polygon points="519.9,1318.7 551.2,1299.5 556.8,1299.5 556.8,1342.5 551.2,1342.5 519.9,1323.3" fill="#0000ff"/>
<polygon points="548.2,1303.3 579.5,1284.1 585.1,1284.1 585.1,1327.1 579.5,1327.1 548.2,1307.9" fill="#0000ff"/>
<polygon points="580.7,1280.2 612.0,1261.0 617.6,1261.0 617.6,1304.0 612.0,1304.0 580.7,1284.8" fill="#0000ff"/>
<polygon points="618.0,1250.7 649.3,1231.5 654.9,1231.5 654.9,1274.5 649.3,1274.5 618.0,1255.3" fill="#0000ff"/>
<polygon points="660.9,1186.6 692.2,1167.4 697.8,1167.4 697.8,1210.4 692.2,1210.4 660.9,1191.2" fill="#0000ff"/>
<polygon points="710.1,1114.8 741.4,1095.6 747.0,1095.6 747.0,1138.6 741.4,1138.6 710.1,1119.4" fill="#0000ff"/>
<polygon points="766.6,1031.5 797.9,1012.3 803.5,1012.3 803.5,1055.3 797.9,1055.3 766.6,1036.1" fill="#0000ff"/>
<polygon points="831.5,876.4 862.8,857.2 868.4,857.2 868.4,900.2 862.8,900.2 831.5,881.0" fill="#0000ff"/>
<polygon points="906.1,735.4 937.4,716.2 943.0,716.2 943.0,759.2 937.4,759.2 906.1,740.0" fill="#0000ff"/>
<polygon points="991.6,566.2 1022.9,547.0 1028.5,547.0 1028.5,590.0 1022.9,590.0 991.6,570.8" fill="#0000ff"/>
<polygon points="1090.6,425.1 1121.9,405.9 1127.5,405.9 1127.5,448.9 1121.9,448.9 1090.6,429.7" fill="#0000ff"/>
<polygon points="1202.9,314.9 1234.2,295.7 1239.8,295.7 1239.8,338.7 1234.2,338.7 1202.9,319.5" fill="#0000ff"/>
<polygon points="1331.7,258.5 1363.0,239.3 1368.6,239.3 1368.6,282.3 1363.0,282.3 1331.7,263.1" fill="#0000ff"/>
<polygon points="1481.9,220.0 1513.2,200.8 1518.8,200.8 1518.8,243.8 1513.2,243.8 1481.9,224.6" fill="#0000ff"/>
<polygon points="1653.0,162.3 1684.3,143.1 1689.9,143.1 1689.9,186.1 1684.3,186.1 1653.0,166.9" fill="#0000ff"/>
<polygon points="1848.7,129.0 1880.0,109.8 1885.6,109.8 1885.6,152.8 1880.0,152.8 1848.7,133.6" fill="#0000ff"/>
</g>
<g id="legend">
<rect x="1319.5" y="791.0" width="642.0" height="553.2" fill="#000"/>
<rect x="1299.5" y="770.5" width="642.0" height="553.2" fill="#fff"/>
<rect x="1298.7" y="769.3" width="643.6" height="2.4" fill="#000"/>
<rect x="1298.7" y="769.3" width="1.6" height="555.2" fill="#777"/>
<rect x="1298.7" y="1322.7" width="643.6" height="2.0" fill="#222"/>
<rect x="1940.5" y="769.3" width="2.0" height="555.4" fill="#000"/>
<line x1="1304.8" x2="1475.1" y1="822.1" y2="822.1" stroke="#ff00ff" stroke-width="8" stroke-dasharray="34.7 33.1"/>
<rect x="1377.4" y="810.3" width="25.2" height="23.6" fill="#fff" stroke="#ff00ff" stroke-width="7"/>
<line x1="1304.8" x2="1475.1" y1="912.0" y2="912.0" stroke="#008000" stroke-width="8" stroke-dasharray="34.7 33.1"/>
<circle cx="1390.0" cy="912.0" r="13.1" fill="#fff" stroke="#008000" stroke-width="7.8"/>
<line x1="1304.8" x2="1475.1" y1="1003.0" y2="1003.0" stroke="#8000ff" stroke-width="8" stroke-dasharray="34.7 33.1"/>
<polygon points="1391.9,978.8 1393.2,982.2 1397.8,987.8 1402.6,995.8 1406.7,1003.3 1410.6,1009.4 1410.6,1017.0 1369.4,1017.0 1369.4,1009.4 1373.3,1003.3 1377.4,995.8 1382.2,987.8 1386.8,982.2 1388.1,978.8" fill="#8000ff"/><polygon points="1390.0,992.0 1399.5,1008.7 1380.5,1008.7" fill="#fff"/>
<line x1="1304.8" x2="1475.1" y1="1092.9" y2="1092.9" stroke="#000000" stroke-width="8"/>
<polygon points="1369.2,1080.4 1410.8,1080.4 1410.8,1086.9 1393.5,1117.1 1386.5,1117.1 1369.2,1086.9" fill="#000000"/>
<line x1="1304.8" x2="1475.1" y1="1182.9" y2="1182.9" stroke="#ff0000" stroke-width="8"/>
<polygon points="1370.0,1182.9 1390.0,1161.1 1410.0,1182.9 1390.0,1204.7" fill="#ff0000"/>
<line x1="1304.8" x2="1475.1" y1="1273.1" y2="1273.1" stroke="#0000ff" stroke-width="8"/>
<polygon points="1365.7,1270.8 1397.0,1251.6 1402.6,1251.6 1402.6,1294.6 1397.0,1294.6 1365.7,1275.4" fill="#0000ff"/>
<g font-family="'Liberation Serif','Times New Roman',serif" font-size="73" fill="#000">
<text transform="translate(1491 846.9) scale(1 1.085)">13.8-500, CFD</text>
<text transform="translate(1491 937.1) scale(1 1.085)">13.8-600, CFD</text>
<text transform="translate(1491 1026.9) scale(1 1.085)">16.2-500, CFD</text>
<text transform="translate(1491 1117.0) scale(1 1.085)">13.8-500, Exp.</text>
<text transform="translate(1491 1207.3) scale(1 1.085)">13.8-600, Exp.</text>
<text transform="translate(1491 1297.3) scale(1 1.085)">16.2-500, Exp.</text>
</g>
</g>
<g id="frame" fill="#000">
<rect x="264.9" y="54.2" width="1759.1" height="10.7"/>
<rect x="264.9" y="1465.4" width="1759.1" height="7.9"/>
<rect x="264.9" y="54.2" width="10.7" height="1419.1"/>
<rect x="2013.2" y="54.2" width="10.8" height="1419.1"/>
<rect x="267.9" y="1473.3" width="1753.1" height="2" fill="#bdbdbd"/>
<rect x="348.9" y="1437.9" width="9.0" height="28.5"/>
<rect x="431.9" y="1451.8" width="9.0" height="14.6"/>
<rect x="515.0" y="1437.9" width="9.0" height="28.5"/>
<rect x="598.2" y="1451.8" width="9.0" height="14.6"/>
<rect x="681.5" y="1437.9" width="9.0" height="28.5"/>
<rect x="764.8" y="1451.8" width="9.0" height="14.6"/>
<rect x="848.0" y="1437.9" width="9.0" height="28.5"/>
<rect x="931.3" y="1451.8" width="9.0" height="14.6"/>
<rect x="1014.6" y="1437.9" width="9.0" height="28.5"/>
<rect x="1098.7" y="1451.8" width="9.0" height="14.6"/>
<rect x="1181.0" y="1437.9" width="9.0" height="28.5"/>
<rect x="1265.1" y="1451.8" width="9.0" height="14.6"/>
<rect x="1347.2" y="1437.9" width="9.0" height="28.5"/>
<rect x="1431.5" y="1451.8" width="9.0" height="14.6"/>
<rect x="1515.4" y="1437.9" width="9.0" height="28.5"/>
<rect x="1597.8" y="1451.8" width="9.0" height="14.6"/>
<rect x="1682.4" y="1437.9" width="9.0" height="28.5"/>
<rect x="1764.4" y="1451.8" width="9.0" height="14.6"/>
<rect x="1848.7" y="1437.9" width="9.0" height="28.5"/>
<rect x="1931.1" y="1451.8" width="9.0" height="14.6"/>
<rect x="274.6" y="1402.5" width="28.3" height="8.2"/>
<rect x="274.6" y="1274.2" width="14.2" height="8.2"/>
<rect x="274.6" y="1146.0" width="28.3" height="8.2"/>
<rect x="274.6" y="1017.7" width="14.2" height="8.2"/>
<rect x="274.6" y="889.4" width="28.3" height="8.2"/>
<rect x="274.6" y="761.1" width="14.2" height="8.2"/>
<rect x="274.6" y="632.9" width="28.3" height="8.2"/>
<rect x="274.6" y="504.6" width="14.2" height="8.2"/>
<rect x="274.6" y="376.3" width="28.3" height="8.2"/>
<rect x="274.6" y="248.1" width="14.2" height="8.2"/>
<rect x="274.6" y="119.8" width="28.3" height="8.2"/>
</g>
<g id="ticklabels" font-family="'Liberation Serif','Times New Roman',serif" font-size="75.5" letter-spacing="-1.5" fill="#000">
<text transform="translate(352.4 1557.3) scale(1 1.047)" text-anchor="middle">0</text>
<text transform="translate(518.5 1557.3) scale(1 1.047)" text-anchor="middle">10</text>
<text transform="translate(685.0 1557.3) scale(1 1.047)" text-anchor="middle">20</text>
<text transform="translate(851.5 1557.3) scale(1 1.047)" text-anchor="middle">30</text>
<text transform="translate(1018.1 1557.3) scale(1 1.047)" text-anchor="middle">40</text>
<text transform="translate(1184.5 1557.3) scale(1 1.047)" text-anchor="middle">50</text>
<text transform="translate(1350.7 1557.3) scale(1 1.047)" text-anchor="middle">60</text>
<text transform="translate(1518.9 1557.3) scale(1 1.047)" text-anchor="middle">70</text>
<text transform="translate(1685.9 1557.3) scale(1 1.047)" text-anchor="middle">80</text>
<text transform="translate(1852.2 1557.3) scale(1 1.047)" text-anchor="middle">90</text>
<text transform="translate(2018.6 1557.3) scale(1 1.047)" text-anchor="middle">100</text>
<text transform="translate(238.9 1428.2) scale(1 1.047)" text-anchor="end">0</text>
<text transform="translate(238.9 1171.7) scale(1 1.047)" text-anchor="end">20</text>
<text transform="translate(238.9 915.1) scale(1 1.047)" text-anchor="end">40</text>
<text transform="translate(238.9 658.6) scale(1 1.047)" text-anchor="end">60</text>
<text transform="translate(238.9 402.0) scale(1 1.047)" text-anchor="end">80</text>
<text transform="translate(238.9 145.5) scale(1 1.047)" text-anchor="end">100</text>
</g>
<text id="xtitle" font-family="'Liberation Serif','Times New Roman',serif" font-size="93.4" transform="translate(1143.1 1642.6) scale(1 1.03)" text-anchor="middle">Particle size (μm)</text>
<text id="ytitle" font-family="'Liberation Serif','Times New Roman',serif" font-size="93.2" transform="translate(121.3 765) rotate(-90)" text-anchor="middle">Partial classification efficiency (%)</text>
</svg>
</body>
</html>
